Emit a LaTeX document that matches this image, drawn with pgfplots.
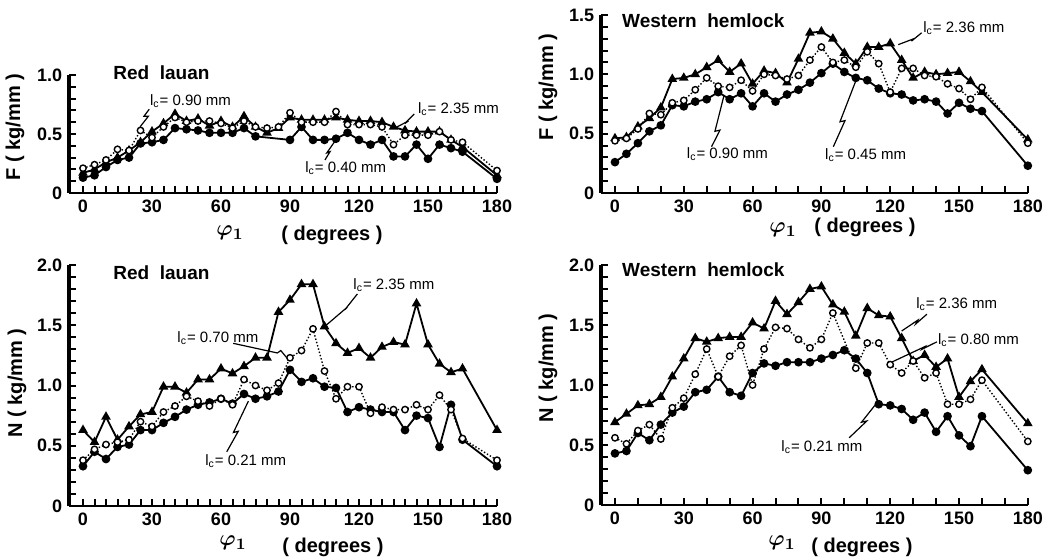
\documentclass[border=0pt]{standalone}
\usepackage{fontspec}
\setmainfont{Liberation Sans}
\usepackage{pgfplots}
\usepackage{pgfplotstable}
\pgfplotsset{compat=1.18}

% deg  filled  open  tri
\pgfplotstableread{
deg  a     b     c
0    0.13  0.21  0.17
5    0.15  0.24  0.20
10   0.22  0.28  0.26
15   0.28  0.37  0.30
20   0.30  0.36  0.36
25   0.42  0.53  0.43
30   0.43  0.47  0.52
35   0.45  0.56  0.59
40   0.55  0.64  0.67
45   0.54  0.60  0.61
50   0.53  0.61  0.63
55   0.51  0.61  0.57
60   0.51  0.59  0.61
65   0.51  0.55  0.56
70   0.55  0.61  0.65
75   0.48  0.56  0.56
80   nan   0.55  0.51
85   nan   0.56  0.55
90   0.45  0.68  0.64
95   0.56  0.60  0.62
100  0.45  0.60  0.62
105  0.45  0.60  0.62
110  0.46  0.69  0.64
115  0.51  0.58  0.62
120  0.45  0.58  0.61
125  0.41  0.58  0.61
130  0.45  0.56  0.60
135  0.31  0.41  0.56
140  0.31  0.49  0.53
145  0.41  0.49  0.52
150  0.29  0.49  0.52
155  0.41  0.52  0.52
160  0.38  0.45  0.45
165  0.35  0.43  0.39
180  0.12  0.19  0.15
}\tabTL

\pgfplotstableread{
deg  a     b     c
0    0.26  0.44  0.46
5    0.33  0.46  0.47
10   0.42  0.54  0.56
15   0.52  0.67  0.63
20   0.57  0.66  0.72
25   0.74  0.76  0.96
30   0.73  0.78  0.97
35   0.77  0.87  1.00
40   0.79  0.97  1.06
45   0.85  0.90  1.12
50   0.79  0.89  1.02
55   0.84  0.95  1.09
60   0.73  0.86  0.92
65   0.84  1.00  1.03
70   0.77  0.99  1.01
75   0.83  0.96  0.93
80   0.87  0.99  1.13
85   0.93  1.12  1.35
90   1.01  1.23  1.36
95   1.09  1.10  1.30
100  1.02  1.12  1.18
105  0.97  1.06  1.09
110  0.95  1.19  1.23
115  0.88  1.09  1.23
120  0.84  0.85  1.26
125  0.83  1.05  1.12
130  0.78  1.05  0.97
135  0.79  0.99  1.02
140  0.77  0.98  1.00
145  0.67  0.92  1.01
150  0.76  0.88  1.02
155  0.71  0.79  0.94
160  0.69  0.89  0.85
180  0.23  0.42  0.45
}\tabTR

\pgfplotstableread{
deg  a     b     c
0    0.33  0.38  0.63
5    0.45  0.47  0.53
10   0.39  0.51  0.74
15   0.49  0.53  0.55
20   0.51  0.55  0.66
25   0.63  0.70  0.76
30   0.63  0.66  0.78
35   0.69  0.78  0.99
40   0.74  0.83  0.99
45   0.80  0.91  0.94
50   0.84  0.87  1.05
55   0.86  0.83  1.05
60   0.89  0.89  1.14
65   0.85  0.84  1.10
70   0.93  1.05  1.16
75   0.89  1.00  1.23
80   0.91  0.96  1.23
85   0.95  1.02  1.61
90   1.13  1.23  1.71
95   1.03  1.29  1.84
100  1.06  1.47  1.84
105  0.99  1.12  1.49
110  0.98  0.89  1.35
115  0.78  0.99  1.27
120  0.82  0.99  1.31
125  0.80  0.77  1.23
130  0.78  0.82  1.32
135  0.78  0.80  1.36
140  0.63  0.80  1.34
145  0.75  0.84  1.68
150  0.73  0.80  1.34
155  0.49  0.92  1.18
160  0.84  0.80  1.11
165  0.55  0.56  1.14
180  0.33  0.38  0.63
}\tabBL

\pgfplotstableread{
deg  a     b     c
0    0.43  0.56  0.69
5    0.45  0.51  0.76
10   0.60  0.62  0.83
15   0.54  0.67  0.84
20   0.67  0.55  0.90
25   0.77  0.81  1.07
30   0.82  0.89  1.22
35   0.94  1.09  1.39
40   0.96  1.30  1.36
45   1.07  1.07  1.39
50   0.94  1.24  1.40
55   0.91  1.33  1.40
60   1.10  1.00  1.52
65   1.18  1.30  1.47
70   1.16  1.48  1.70
75   1.19  1.47  1.59
80   1.19  1.38  1.69
85   1.19  1.31  1.80
90   1.22  1.38  1.82
95   1.25  1.60  1.67
100  1.29  nan   1.61
105  1.22  1.14  1.41
110  1.10  1.35  1.64
115  0.84  1.35  1.58
120  0.83  1.17  1.57
125  0.80  1.10  1.39
130  0.71  1.20  1.20
135  0.77  1.06  1.25
140  0.61  1.10  1.15
145  0.74  0.84  1.22
150  0.58  0.84  0.90
155  0.49  0.88  1.03
160  0.74  1.04  1.13
180  0.29  0.53  0.68
}\tabBR

\pgfplotsset{
  panel/.style={
    scale only axis, anchor=south west,
    axis x line=bottom, axis y line=left,
    axis line style={-},
    x axis line style={line width=1.2pt},
    y axis line style={line width=1.8pt},
    tick align=inside,
    xmin=-6, xmax=180, ymin=0,
    xtick={0,30,...,180},
    xticklabels={0,30,60,90,120,150,180},
    tick style={black, line width=1pt},
    major tick length=3.5pt, minor tick length=3.5pt,
    ticklabel style={font=\fontsize{9}{10}\selectfont\bfseries},
    clip=false,
  },
  sfill/.style={black, line width=0.9pt, mark=*, mark size=1.7pt, mark options={solid}},
  sopen/.style={black, line width=0.7pt, densely dotted, mark=*, mark size=1.6pt, mark options={solid, fill=white, draw=black, line width=0.7pt}},
  stri/.style={black, line width=0.9pt, mark=triangle*, mark size=1.9pt, mark options={solid}},
}
\tikzset{
  ann/.style={font=\fontsize{7.5}{8}\selectfont, anchor=west, inner sep=0pt},
  bolt/.style={black, line width=0.6pt},
  lab/.style={font=\fontsize{10}{11}\selectfont\bfseries, inner sep=0pt},
  ttl/.style={font=\fontsize{9.5}{10}\selectfont\bfseries, inner sep=0pt, anchor=west},
  phi/.style={font=\fontsize{11}{12}\selectfont\boldmath, inner sep=0pt},
}
\newcommand{\lc}{l\textsubscript{c}}

\begin{document}
\begin{tikzpicture}
\useasboundingbox (0,0) rectangle (526pt,-280pt);

% ---------- Top left: Red lauan F ----------
\begin{axis}[panel, at={(34.6pt,-96.5pt)}, width=213.9pt, height=59pt,
  ymax=1.0, ytick={0,0.5,1.0}, yticklabels={0,0.5,1.0},
  minor xtick={0,5,...,180}, minor ytick={0.1,0.2,...,0.9}]
\addplot[sfill] table[x=deg,y=a] {\tabTL};
\addplot[stri] table[x=deg,y=c] {\tabTL};
\addplot[sopen] table[x=deg,y=b] {\tabTL};
\node[ann] at (axis cs:29,0.78) {\lc= 0.90 mm};
\draw[bolt] (axis cs:28.8,0.71) -- (axis cs:26.5,0.65) -- (axis cs:28.4,0.65) -- (axis cs:24.8,0.56);
\node[ann] at (axis cs:145.5,0.71) {\lc= 2.35 mm};
\draw[bolt] (axis cs:144,0.67) -- (axis cs:140,0.59) -- (axis cs:141.5,0.61) -- (axis cs:135.5,0.55);
\node[ann] at (axis cs:96.5,0.21) {\lc= 0.40 mm};
\draw[bolt] (axis cs:105.2,0.28) -- (axis cs:107.4,0.35) -- (axis cs:106,0.34) -- (axis cs:110.3,0.46);
\end{axis}

% ---------- Top right: Western hemlock F ----------
\begin{axis}[panel, at={(300.6pt,-96.5pt)}, width=213.3pt, height=89pt,
  ymax=1.5, ytick={0,0.5,1.0,1.5}, yticklabels={0,0.5,1.0,1.5},
  minor xtick={0,10,...,180}, minor ytick={0.1,0.2,...,1.4}]
\addplot[sfill] table[x=deg,y=a] {\tabTR};
\addplot[stri] table[x=deg,y=c] {\tabTR};
\addplot[sopen] table[x=deg,y=b] {\tabTR};
\node[ann] at (axis cs:31.2,0.33) {\lc= 0.90 mm};
\draw[bolt] (axis cs:42.1,0.39) -- (axis cs:45.8,0.53) -- (axis cs:43.6,0.52) -- (axis cs:47.5,0.82);
\node[ann] at (axis cs:134.3,1.39) {\lc= 2.36 mm};
\draw[bolt] (axis cs:133.7,1.35) -- (axis cs:129.3,1.28) -- (axis cs:130.3,1.30) -- (axis cs:123.5,1.25);
\node[ann] at (axis cs:91.5,0.32) {\lc= 0.45 mm};
\draw[bolt] (axis cs:95.2,0.39) -- (axis cs:100.3,0.61) -- (axis cs:98.1,0.60) -- (axis cs:105.1,0.95);
\end{axis}

% ---------- Bottom left: Red lauan N ----------
\begin{axis}[panel, at={(34.6pt,-253pt)}, width=213.9pt, height=120.5pt,
  ymax=2.0, ytick={0,0.5,1.0,1.5,2.0}, yticklabels={0,0.5,1.0,1.5,2.0},
  minor xtick={0,5,...,180}, minor ytick={0.1,0.2,...,1.9}]
\addplot[sfill] table[x=deg,y=a] {\tabBL};
\addplot[stri] table[x=deg,y=c] {\tabBL};
\addplot[sopen] table[x=deg,y=b] {\tabBL};
\node[ann] at (axis cs:40.9,1.39) {\lc= 0.70 mm};
\draw[bolt] (axis cs:65.3,1.35) -- (axis cs:84.5,1.27) -- (axis cs:86,1.29) -- (axis cs:88.6,1.23);
\node[ann] at (axis cs:117.4,1.83) {\lc= 2.35 mm};
\draw[bolt] (axis cs:119.3,1.76) -- (axis cs:113.9,1.63) -- (axis cs:114.9,1.65) -- (axis cs:105.7,1.50);
\node[ann] at (axis cs:53,0.37) {\lc= 0.21 mm};
\draw[bolt] (axis cs:62.5,0.45) -- (axis cs:67.5,0.62) -- (axis cs:65.4,0.61) -- (axis cs:71.9,0.87);
\end{axis}

% ---------- Bottom right: Western hemlock N ----------
\begin{axis}[panel, at={(300.6pt,-252.5pt)}, width=213.3pt, height=120pt,
  ymax=2.0, ytick={0,0.5,1.0,1.5,2.0}, yticklabels={0,0.5,1.0,1.5,2.0},
  minor xtick={0,10,...,180}, minor ytick={0.1,0.2,...,1.9}]
\addplot[sfill] table[x=deg,y=a] {\tabBR};
\addplot[stri] table[x=deg,y=c] {\tabBR};
\addplot[sopen] table[x=deg,y=b] {\tabBR};
\node[ann] at (axis cs:131.2,1.67) {\lc= 2.36 mm};
\draw[bolt] (axis cs:136,1.59) -- (axis cs:131.2,1.51) -- (axis cs:132,1.54) -- (axis cs:125,1.45);
\node[ann] at (axis cs:140.7,1.37) {\lc= 0.80 mm};
\draw[bolt] (axis cs:140.4,1.36) -- (axis cs:134.1,1.30) -- (axis cs:135.1,1.32) -- (axis cs:120.6,1.19);
\node[ann] at (axis cs:72.4,0.48) {\lc= 0.21 mm};
\draw[bolt] (axis cs:102.1,0.56) -- (axis cs:109.8,0.70) -- (axis cs:107.5,0.69) -- (axis cs:113.3,0.83);
\end{axis}

% ---------- titles and axis labels ----------
\node[ttl] at (56.5pt,-36.5pt) {Red\ \ lauan};
\node[ttl] at (56.5pt,-136.5pt) {Red\ \ lauan};
\node[ttl] at (310.9pt,-10.4pt) {Western\ \ hemlock};
\node[ttl] at (310.9pt,-135pt) {Western\ \ hemlock};

\node[lab, rotate=90] at (7.5pt,-63.5pt) {F ( kg/mm )};
\node[lab, rotate=90] at (8.5pt,-191.5pt) {N ( kg/mm )};
\node[lab, rotate=90] at (274pt,-43.5pt) {F ( kg/mm )};
\node[lab, rotate=90] at (274pt,-184pt) {N ( kg/mm )};

\node[phi] at (115pt,-116.5pt) {$\varphi_1$};
\node[lab] at (166pt,-117.5pt) {( degrees )};
\node[phi] at (391.5pt,-115pt) {$\varphi_1$};
\node[lab] at (432.5pt,-113.5pt) {( degrees )};
\node[phi] at (116.5pt,-271.5pt) {$\varphi_1$};
\node[lab] at (166.5pt,-273.5pt) {( degrees )};
\node[phi] at (391pt,-271.5pt) {$\varphi_1$};
\node[lab] at (431pt,-273.5pt) {( degrees )};
\end{tikzpicture}
\end{document}
